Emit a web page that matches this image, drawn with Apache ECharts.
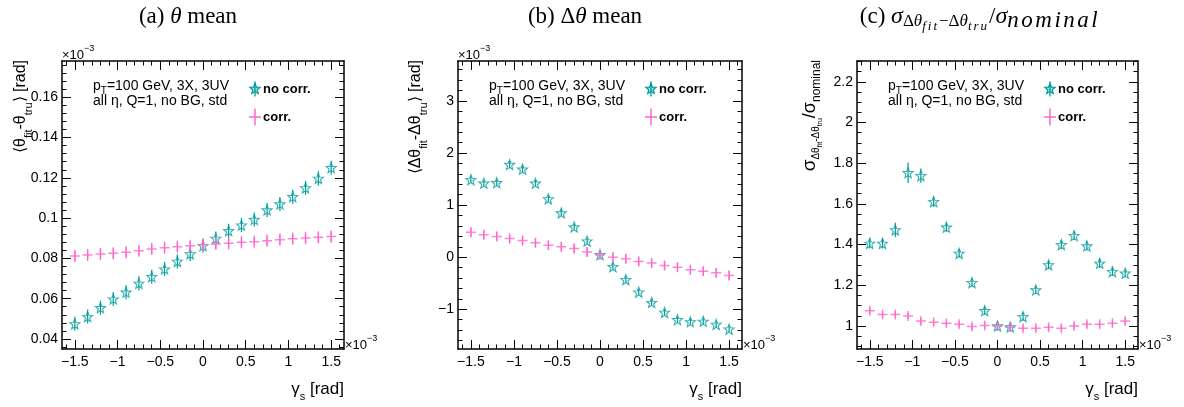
<!DOCTYPE html>
<html>
<head>
<meta charset="utf-8">
<script src="https://cdn.jsdelivr.net/npm/echarts@6.0.0/dist/echarts.min.js"></script>
<style>
  html, body { margin: 0; padding: 0; background: #fff; }
  #chart { width: 1184px; height: 407px; }
</style>
</head>
<body>
<div id="chart"></div>
<script>
// ---- data (gamma_s in units of 1e-3 rad) ----
const gammaS = [-1.5, -1.35, -1.2, -1.05, -0.9, -0.75, -0.6, -0.45, -0.3, -0.15, 0,
                0.15, 0.3, 0.45, 0.6, 0.75, 0.9, 1.05, 1.2, 1.35, 1.5];

// (a) mean of theta_fit - theta_tru  [1e-3 rad]
const thetaNoCorr    = [0.0475, 0.0511, 0.0555, 0.0598, 0.0632, 0.0676, 0.0709, 0.0747, 0.0785, 0.0822, 0.0863,
                        0.0899, 0.0937, 0.0965, 0.0993, 0.1040, 0.1070, 0.1106, 0.1150, 0.1197, 0.1250];
const thetaNoCorrErr = [0.0035, 0.0035, 0.0035, 0.0035, 0.0035, 0.0035, 0.0035, 0.0035, 0.0035, 0.0035, 0.0035,
                        0.0035, 0.0035, 0.0035, 0.0035, 0.0035, 0.0035, 0.0035, 0.0035, 0.0035, 0.0035];
const thetaCorr      = [0.0812, 0.0817, 0.0822, 0.0825, 0.0830, 0.0838, 0.0847, 0.0853, 0.0858, 0.0863, 0.0868,
                        0.0871, 0.0875, 0.0880, 0.0883, 0.0888, 0.0893, 0.0898, 0.0901, 0.0905, 0.0908];
const thetaCorrErr   = [0.003, 0.003, 0.003, 0.003, 0.003, 0.003, 0.003, 0.003, 0.003, 0.003, 0.003,
                        0.003, 0.003, 0.003, 0.003, 0.003, 0.003, 0.003, 0.003, 0.003, 0.003];

// (b) mean of dtheta_fit - dtheta_tru  [1e-3 rad]
const dThetaNoCorr    = [1.49, 1.42, 1.43, 1.78, 1.69, 1.42, 1.12, 0.85, 0.58, 0.31, 0.05,
                         -0.18, -0.43, -0.67, -0.87, -1.06, -1.20, -1.24, -1.23, -1.29, -1.38];
const dThetaNoCorrErr = [0.06, 0.06, 0.06, 0.07, 0.07, 0.06, 0.06, 0.06, 0.06, 0.06, 0.06,
                         0.06, 0.06, 0.06, 0.06, 0.06, 0.06, 0.06, 0.06, 0.06, 0.06];
const dThetaCorr      = [0.48, 0.43, 0.40, 0.36, 0.32, 0.28, 0.23, 0.20, 0.17, 0.10, 0.05,
                         0.00, -0.03, -0.08, -0.11, -0.16, -0.19, -0.24, -0.27, -0.30, -0.35];
const dThetaCorrErr   = [0.09, 0.09, 0.09, 0.09, 0.09, 0.09, 0.09, 0.09, 0.09, 0.09, 0.09,
                         0.09, 0.09, 0.09, 0.09, 0.09, 0.09, 0.09, 0.09, 0.09, 0.09];

// (c) resolution relative to nominal
const sigmaNoCorr    = [1.406, 1.406, 1.472, 1.753, 1.739, 1.611, 1.485, 1.357, 1.213, 1.075, 1.000,
                        0.995, 1.046, 1.177, 1.300, 1.400, 1.444, 1.393, 1.308, 1.267, 1.259];
const sigmaNoCorrErr = [0.025, 0.025, 0.035, 0.05, 0.035, 0.025, 0.022, 0.02, 0.02, 0.02, 0.02,
                        0.02, 0.02, 0.02, 0.02, 0.02, 0.022, 0.022, 0.022, 0.02, 0.02];
const sigmaCorr      = [1.075, 1.057, 1.057, 1.049, 1.025, 1.018, 1.013, 1.008, 0.997, 1.002, 1.000,
                        0.994, 0.989, 0.989, 0.994, 0.989, 1.000, 1.008, 1.008, 1.013, 1.025];
const sigmaCorrErr   = [0.015, 0.015, 0.015, 0.015, 0.015, 0.015, 0.015, 0.015, 0.015, 0.015, 0.015,
                        0.015, 0.015, 0.015, 0.015, 0.015, 0.015, 0.015, 0.015, 0.015, 0.015];

// ---- tick labels ----
const xTickLabels   = [-1.5, -1, -0.5, 0, 0.5, 1, 1.5];
const yTicksTheta   = [0.04, 0.06, 0.08, 0.1, 0.12, 0.14, 0.16];
const yTicksDTheta  = [-1, 0, 1, 2, 3];
const yTicksSigma   = [1, 1.2, 1.4, 1.6, 1.8, 2, 2.2];

// ---- styling ----
const TEAL = '#009c9c';
const PINK = '#ff66cc';
const SANS = "'Liberation Sans', Arial, Helvetica, sans-serif";
const SERIF = "'Liberation Serif', 'Times New Roman', serif";

const STAR = (() => {
  let d = '';
  for (let i = 0; i < 10; i++) {
    const r = i % 2 === 0 ? 10 : 4.2;
    const a = -Math.PI / 2 + i * Math.PI / 5;
    d += (i === 0 ? 'M' : 'L') + (r * Math.cos(a)).toFixed(2) + ',' + (r * Math.sin(a)).toFixed(2);
  }
  return 'path://' + d + 'Z';
})();
const CROSS = 'path://M-5,0L5,0M0,-5L0,5';

// text measuring for mixed-size runs (sub/superscripts)
const mctx = document.createElement('canvas').getContext('2d');
function fontOf(tk) {
  return (tk.italic ? 'italic ' : '') + (tk.bold ? 'bold ' : '') + tk.size + 'px ' + (tk.family || SANS);
}
function textRun(tokens, color) {
  let x = 0;
  const children = [];
  tokens.forEach(tk => {
    const font = fontOf(tk);
    mctx.font = font;
    const parts = tk.ls ? tk.t.split('') : [tk.t];
    parts.forEach(p => {
      children.push({
        type: 'text', x: x, y: tk.dy || 0, silent: true,
        style: { text: p, font: font, fill: color || '#000', align: 'left', verticalAlign: 'middle' }
      });
      x += mctx.measureText(p).width + (tk.ls || 0);
    });
  });
  return { children, width: x };
}
function runAt(tokens, x, y, anchor, color) {
  const r = textRun(tokens, color);
  const gx = anchor === 'center' ? x - r.width / 2 : anchor === 'right' ? x - r.width : x;
  return { type: 'group', x: gx, y: y, children: r.children };
}
// vertical label reading bottom-to-top, ending at yTop
function vRun(tokens, cx, yTop) {
  const r = textRun(tokens);
  return { type: 'group', x: cx, y: yTop + r.width, rotation: Math.PI / 2, children: r.children };
}

function ticksBetween(lo, hi, step) {
  const out = [];
  const k0 = Math.ceil(lo / step - 1e-6), k1 = Math.floor(hi / step + 1e-6);
  for (let k = k0; k <= k1; k++) out.push(+(k * step).toFixed(6));
  return out;
}
const fmt = v => String(+v.toFixed(6)).replace('-', '\u2212');

// ---- panel layout ----
const panels = [
  {
    grid: { left: 62, top: 61, width: 282, height: 288 },
    x: [-1.65, 1.65], y: [0.035, 0.178], yMajor: yTicksTheta, yMinorStep: 0.004,
    noCorr: thetaNoCorr, noCorrErr: thetaNoCorrErr, corr: thetaCorr, corrErr: thetaCorrErr,
    titleCx: 188,
    title: [{ t: '(a) ', size: 23, family: SERIF }, { t: 'θ', size: 23, family: SERIF, italic: true },
            { t: ' mean', size: 23, family: SERIF }],
    yLabelCx: 21,
    yLabel: [{ t: '⟨θ', size: 16 }, { t: 'fit', size: 11, dy: 8 }, { t: '-θ', size: 16 },
             { t: 'tru', size: 11, dy: 8 }, { t: '⟩ [rad]', size: 16 }],
    scaledY: true
  },
  {
    grid: { left: 458, top: 61, width: 284, height: 288 },
    x: [-1.65, 1.65], y: [-1.762, 3.768], yMajor: yTicksDTheta, yMinorStep: 0.2,
    noCorr: dThetaNoCorr, noCorrErr: dThetaNoCorrErr, corr: dThetaCorr, corrErr: dThetaCorrErr,
    titleCx: 585,
    title: [{ t: '(b) Δ', size: 23, family: SERIF }, { t: 'θ', size: 23, family: SERIF, italic: true },
            { t: ' mean', size: 23, family: SERIF }],
    yLabelCx: 416,
    yLabel: [{ t: '⟨Δθ', size: 16 }, { t: 'fit', size: 11, dy: 8 }, { t: '-Δθ', size: 16 },
             { t: 'tru', size: 11, dy: 8 }, { t: '⟩ [rad]', size: 16 }],
    scaledY: true
  },
  {
    grid: { left: 857, top: 61, width: 281, height: 288 },
    x: [-1.65, 1.65], y: [0.887, 2.302], yMajor: yTicksSigma, yMinorStep: 0.05,
    noCorr: sigmaNoCorr, noCorrErr: sigmaNoCorrErr, corr: sigmaCorr, corrErr: sigmaCorrErr,
    titleCx: 980,
    title: [{ t: '(c) ', size: 23, family: SERIF }, { t: 'σ', size: 24, family: SERIF, italic: true },
            { t: 'Δ', size: 17, family: SERIF, dy: 5 }, { t: 'θ', size: 17, family: SERIF, italic: true, dy: 5 },
            { t: 'fit', size: 13, family: SERIF, italic: true, dy: 10, ls: 2 },
            { t: '−Δ', size: 17, family: SERIF, dy: 5 }, { t: 'θ', size: 17, family: SERIF, italic: true, dy: 5 },
            { t: 'tru', size: 13, family: SERIF, italic: true, dy: 10, ls: 2 },
            { t: '/', size: 23, family: SERIF }, { t: 'σ', size: 24, family: SERIF, italic: true },
            { t: 'nominal', size: 23, family: SERIF, italic: true, dy: 4, ls: 2.5 }],
    yLabelCx: 810,
    yLabel: [{ t: 'σ', size: 19 }, { t: 'Δθ', size: 10, dy: 6 }, { t: 'fit', size: 7, dy: 10 },
             { t: '-Δθ', size: 10, dy: 6 }, { t: 'tru', size: 7, dy: 10 },
             { t: '/σ', size: 18 }, { t: 'nominal', size: 12, dy: 7 }],
    scaledY: false
  }
];

const xMinor = ticksBetween(-1.65, 1.65, 0.1);
const lineBlack = { color: '#000', width: 1.5 };
const tickBlack = { color: '#000', width: 1 };

const xAxis = [], yAxis = [], grid = [], series = [], graphic = [];

function errRender(color) {
  return function (params, api) {
    const x = api.value(0), y = api.value(1), e = api.value(2);
    const a = api.coord([x, y - e]), b = api.coord([x, y + e]);
    return { type: 'line', shape: { x1: a[0], y1: a[1], x2: b[0], y2: b[1] },
             style: { stroke: color, lineWidth: 1.2 } };
  };
}

panels.forEach((p, i) => {
  grid.push(Object.assign({ containLabel: false }, p.grid));
  const L = p.grid.left, T = p.grid.top, R = L + p.grid.width, B = T + p.grid.height;
  const yMinor = ticksBetween(p.y[0], p.y[1], p.yMinorStep);

  const xb = { gridIndex: i, type: 'value', min: p.x[0], max: p.x[1], splitLine: { show: false } };
  xAxis.push(
    Object.assign({}, xb, { position: 'bottom',
      axisLine: { show: true, onZero: false, lineStyle: lineBlack },
      axisTick: { show: true, inside: true, length: 9, customValues: xTickLabels, lineStyle: tickBlack },
      axisLabel: { show: true, customValues: xTickLabels, formatter: fmt, color: '#000',
                   fontSize: 14, fontFamily: SANS, margin: 6 } }),
    Object.assign({}, xb, { position: 'bottom',
      axisLine: { show: false, onZero: false },
      axisTick: { show: true, inside: true, length: 4.5, customValues: xMinor, lineStyle: tickBlack },
      axisLabel: { show: false } }),
    Object.assign({}, xb, { position: 'top',
      axisLine: { show: true, onZero: false, lineStyle: lineBlack },
      axisTick: { show: true, inside: true, length: 9, customValues: xTickLabels, lineStyle: tickBlack },
      axisLabel: { show: false } }),
    Object.assign({}, xb, { position: 'top',
      axisLine: { show: false, onZero: false },
      axisTick: { show: true, inside: true, length: 4.5, customValues: xMinor, lineStyle: tickBlack },
      axisLabel: { show: false } })
  );
  const yb = { gridIndex: i, type: 'value', min: p.y[0], max: p.y[1], splitLine: { show: false } };
  yAxis.push(
    Object.assign({}, yb, { position: 'left',
      axisLine: { show: true, onZero: false, lineStyle: lineBlack },
      axisTick: { show: true, inside: true, length: 9, customValues: p.yMajor, lineStyle: tickBlack },
      axisLabel: { show: true, customValues: p.yMajor, formatter: fmt, color: '#000',
                   fontSize: 14, fontFamily: SANS, margin: 4 } }),
    Object.assign({}, yb, { position: 'left',
      axisLine: { show: false, onZero: false },
      axisTick: { show: true, inside: true, length: 4.5, customValues: yMinor, lineStyle: tickBlack },
      axisLabel: { show: false } }),
    Object.assign({}, yb, { position: 'right',
      axisLine: { show: true, onZero: false, lineStyle: lineBlack },
      axisTick: { show: true, inside: true, length: 9, customValues: p.yMajor, lineStyle: tickBlack },
      axisLabel: { show: false } }),
    Object.assign({}, yb, { position: 'right',
      axisLine: { show: false, onZero: false },
      axisTick: { show: true, inside: true, length: 4.5, customValues: yMinor, lineStyle: tickBlack },
      axisLabel: { show: false } })
  );

  const ax = { xAxisIndex: 4 * i, yAxisIndex: 4 * i };
  series.push(
    Object.assign({ type: 'custom', name: 'no corr.', renderItem: errRender(TEAL), silent: true, z: 2,
      encode: { x: 0, y: 1 },
      data: gammaS.map((g, k) => [g, p.noCorr[k], p.noCorrErr[k]]) }, ax),
    Object.assign({ type: 'scatter', name: 'no corr.', symbol: STAR, symbolSize: 10, silent: true, z: 3,
      itemStyle: { color: 'rgba(255,255,255,0)', borderColor: TEAL, borderWidth: 1.1 },
      data: gammaS.map((g, k) => [g, p.noCorr[k]]) }, ax),
    Object.assign({ type: 'custom', name: 'corr.', renderItem: errRender(PINK), silent: true, z: 4,
      encode: { x: 0, y: 1 },
      data: gammaS.map((g, k) => [g, p.corr[k], p.corrErr[k]]) }, ax),
    Object.assign({ type: 'scatter', name: 'corr.', symbol: CROSS, symbolSize: 10, silent: true, z: 5,
      itemStyle: { color: 'rgba(255,255,255,0)', borderColor: PINK, borderWidth: 1.5 },
      data: gammaS.map((g, k) => [g, p.corr[k]]) }, ax)
  );

  // titles and axis titles
  graphic.push(runAt(p.title, p.titleCx, 17, 'center'));
  graphic.push(vRun(p.yLabel, p.yLabelCx, 60));
  graphic.push(runAt([{ t: 'γ', size: 17 }, { t: 's', size: 11, dy: 8 }, { t: ' [rad]', size: 17 }],
                     R, 389, 'right'));
  // axis multipliers
  const mult = [{ t: '×10', size: 13 }, { t: '−3', size: 9, dy: -6 }];
  if (p.scaledY) graphic.push(runAt(mult, L, 55, 'left'));
  graphic.push(runAt(mult, R + 1, 345, 'left'));

  // info text
  graphic.push(runAt([{ t: 'p', size: 14 }, { t: 'T', size: 10, dy: 5 }, { t: '=100 GeV, 3X, 3UV', size: 14 }],
                     L + 31, 86, 'left'));
  graphic.push(runAt([{ t: 'all η, Q=1, no BG, std', size: 14 }], L + 31, 101, 'left'));

  // legend
  const lx = L + 193, ly1 = 89, ly2 = 117;
  const starPts = [];
  for (let k = 0; k < 10; k++) {
    const r = k % 2 === 0 ? 5.5 : 2.4;
    const a = -Math.PI / 2 + k * Math.PI / 5;
    starPts.push([r * Math.cos(a), r * Math.sin(a)]);
  }
  graphic.push({ type: 'group', x: lx, y: ly1, silent: true, children: [
    { type: 'line', shape: { x1: 0, y1: -7.5, x2: 0, y2: 7.5 }, style: { stroke: TEAL, lineWidth: 1.3 } },
    { type: 'polygon', shape: { points: starPts }, style: { fill: 'rgba(0,156,156,0.35)', stroke: TEAL, lineWidth: 1.2 } }
  ] });
  graphic.push(runAt([{ t: 'no corr.', size: 13, bold: true }], lx + 8, ly1, 'left'));
  graphic.push({ type: 'group', x: lx, y: ly2, silent: true, children: [
    { type: 'line', shape: { x1: -6, y1: 0, x2: 6, y2: 0 }, style: { stroke: PINK, lineWidth: 1.5 } },
    { type: 'line', shape: { x1: 0, y1: -8.5, x2: 0, y2: 8.5 }, style: { stroke: PINK, lineWidth: 1.5 } }
  ] });
  graphic.push(runAt([{ t: 'corr.', size: 13, bold: true }], lx + 8, ly2, 'left'));
});

const chart = echarts.init(document.getElementById('chart'), null, { renderer: 'canvas' });
chart.setOption({
  backgroundColor: '#fff',
  animation: false,
  grid, xAxis, yAxis, series, graphic
});
</script>
</body>
</html>
